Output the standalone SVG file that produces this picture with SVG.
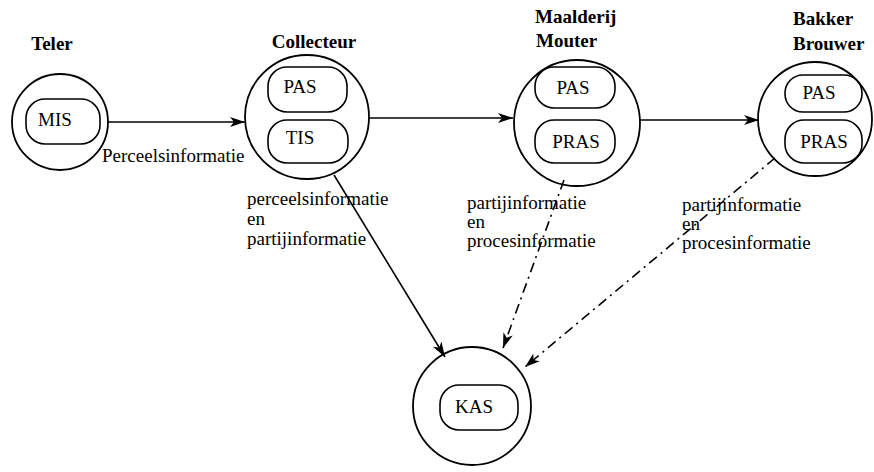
<svg xmlns="http://www.w3.org/2000/svg" width="874" height="472" viewBox="0 0 874 472">
<style>
.c{fill:none;stroke:#000;stroke-width:1.8}
.r{fill:none;stroke:#000;stroke-width:1.6}
.t{font-family:"Liberation Serif","Times New Roman",serif;font-size:19px;fill:#000}
.b{font-family:"Liberation Serif","Times New Roman",serif;font-size:19px;font-weight:bold;fill:#000}
.m{text-anchor:middle}
.l{fill:none;stroke:#000;stroke-width:1.6}
.d{stroke-dasharray:10 5 2 5}
</style>
<defs>
<marker id="ah" markerUnits="userSpaceOnUse" markerWidth="16" markerHeight="12" refX="15" refY="6" orient="auto">
<path d="M0,1 L15,6 L0,11 L4,6 z" fill="#000"/>
</marker>
</defs>
<rect width="874" height="472" fill="#fff"/>
<g id="teler">
<text class="b m" x="52" y="50">Teler</text>
<circle class="c" cx="60" cy="122" r="48"/>
<rect class="r" x="26" y="99" width="74" height="45" rx="19"/>
<text class="t m" x="55" y="126">MIS</text>
</g>
<g id="collecteur">
<text class="b m" x="314" y="48">Collecteur</text>
<circle class="c" cx="307" cy="117" r="62"/>
<rect class="r" x="268" y="67" width="79" height="45" rx="19"/>
<text class="t m" x="300" y="93">PAS</text>
<rect class="r" x="268" y="120" width="80" height="43" rx="19"/>
<text class="t m" x="300" y="144">TIS</text>
</g>
<g id="maalderij">
<text class="b" x="535" y="23">Maalderij</text>
<text class="b" x="536" y="47">Mouter</text>
<circle class="c" cx="577" cy="123" r="63"/>
<rect class="r" x="535" y="67" width="80" height="41" rx="19"/>
<text class="t m" x="573" y="94">PAS</text>
<rect class="r" x="535" y="120" width="80" height="43" rx="19"/>
<text class="t m" x="576" y="148">PRAS</text>
</g>
<g id="bakker">
<text class="b" x="793" y="25">Bakker</text>
<text class="b" x="793" y="50">Brouwer</text>
<circle class="c" cx="815" cy="119" r="57"/>
<rect class="r" x="785" y="75" width="77" height="37" rx="18"/>
<text class="t m" x="819" y="99">PAS</text>
<rect class="r" x="785" y="120" width="77" height="43" rx="19"/>
<text class="t m" x="824" y="148">PRAS</text>
</g>
<g id="kas">
<circle class="c" cx="472" cy="406" r="59"/>
<rect class="r" x="440" y="385" width="78" height="45" rx="19"/>
<text class="t m" x="474" y="413">KAS</text>
</g>
<g id="connectors">
<line class="l" x1="108" y1="122" x2="245" y2="122" marker-end="url(#ah)"/>
<line class="l" x1="369" y1="118" x2="513" y2="118" marker-end="url(#ah)"/>
<line class="l" x1="640" y1="120" x2="759" y2="120" marker-end="url(#ah)"/>
<line class="l" x1="334" y1="175" x2="445" y2="357" marker-end="url(#ah)"/>
<line class="l d" x1="564" y1="180" x2="503" y2="348" marker-end="url(#ah)"/>
<line class="l d" x1="775" y1="158" x2="525" y2="367" marker-end="url(#ah)"/>
</g>
<g id="labels">
<text class="t" x="102" y="162">Perceelsinformatie</text>
<text class="t" x="247" y="205">perceelsinformatie</text>
<text class="t" x="247" y="225">en</text>
<text class="t" x="247" y="245">partijinformatie</text>
<text class="t" x="467" y="209">partijinformatie</text>
<text class="t" x="467" y="228">en</text>
<text class="t" x="467" y="247">procesinformatie</text>
<text class="t" x="682" y="211">partijinformatie</text>
<text class="t" x="682" y="230">en</text>
<text class="t" x="682" y="249">procesinformatie</text>
</g>
</svg>
